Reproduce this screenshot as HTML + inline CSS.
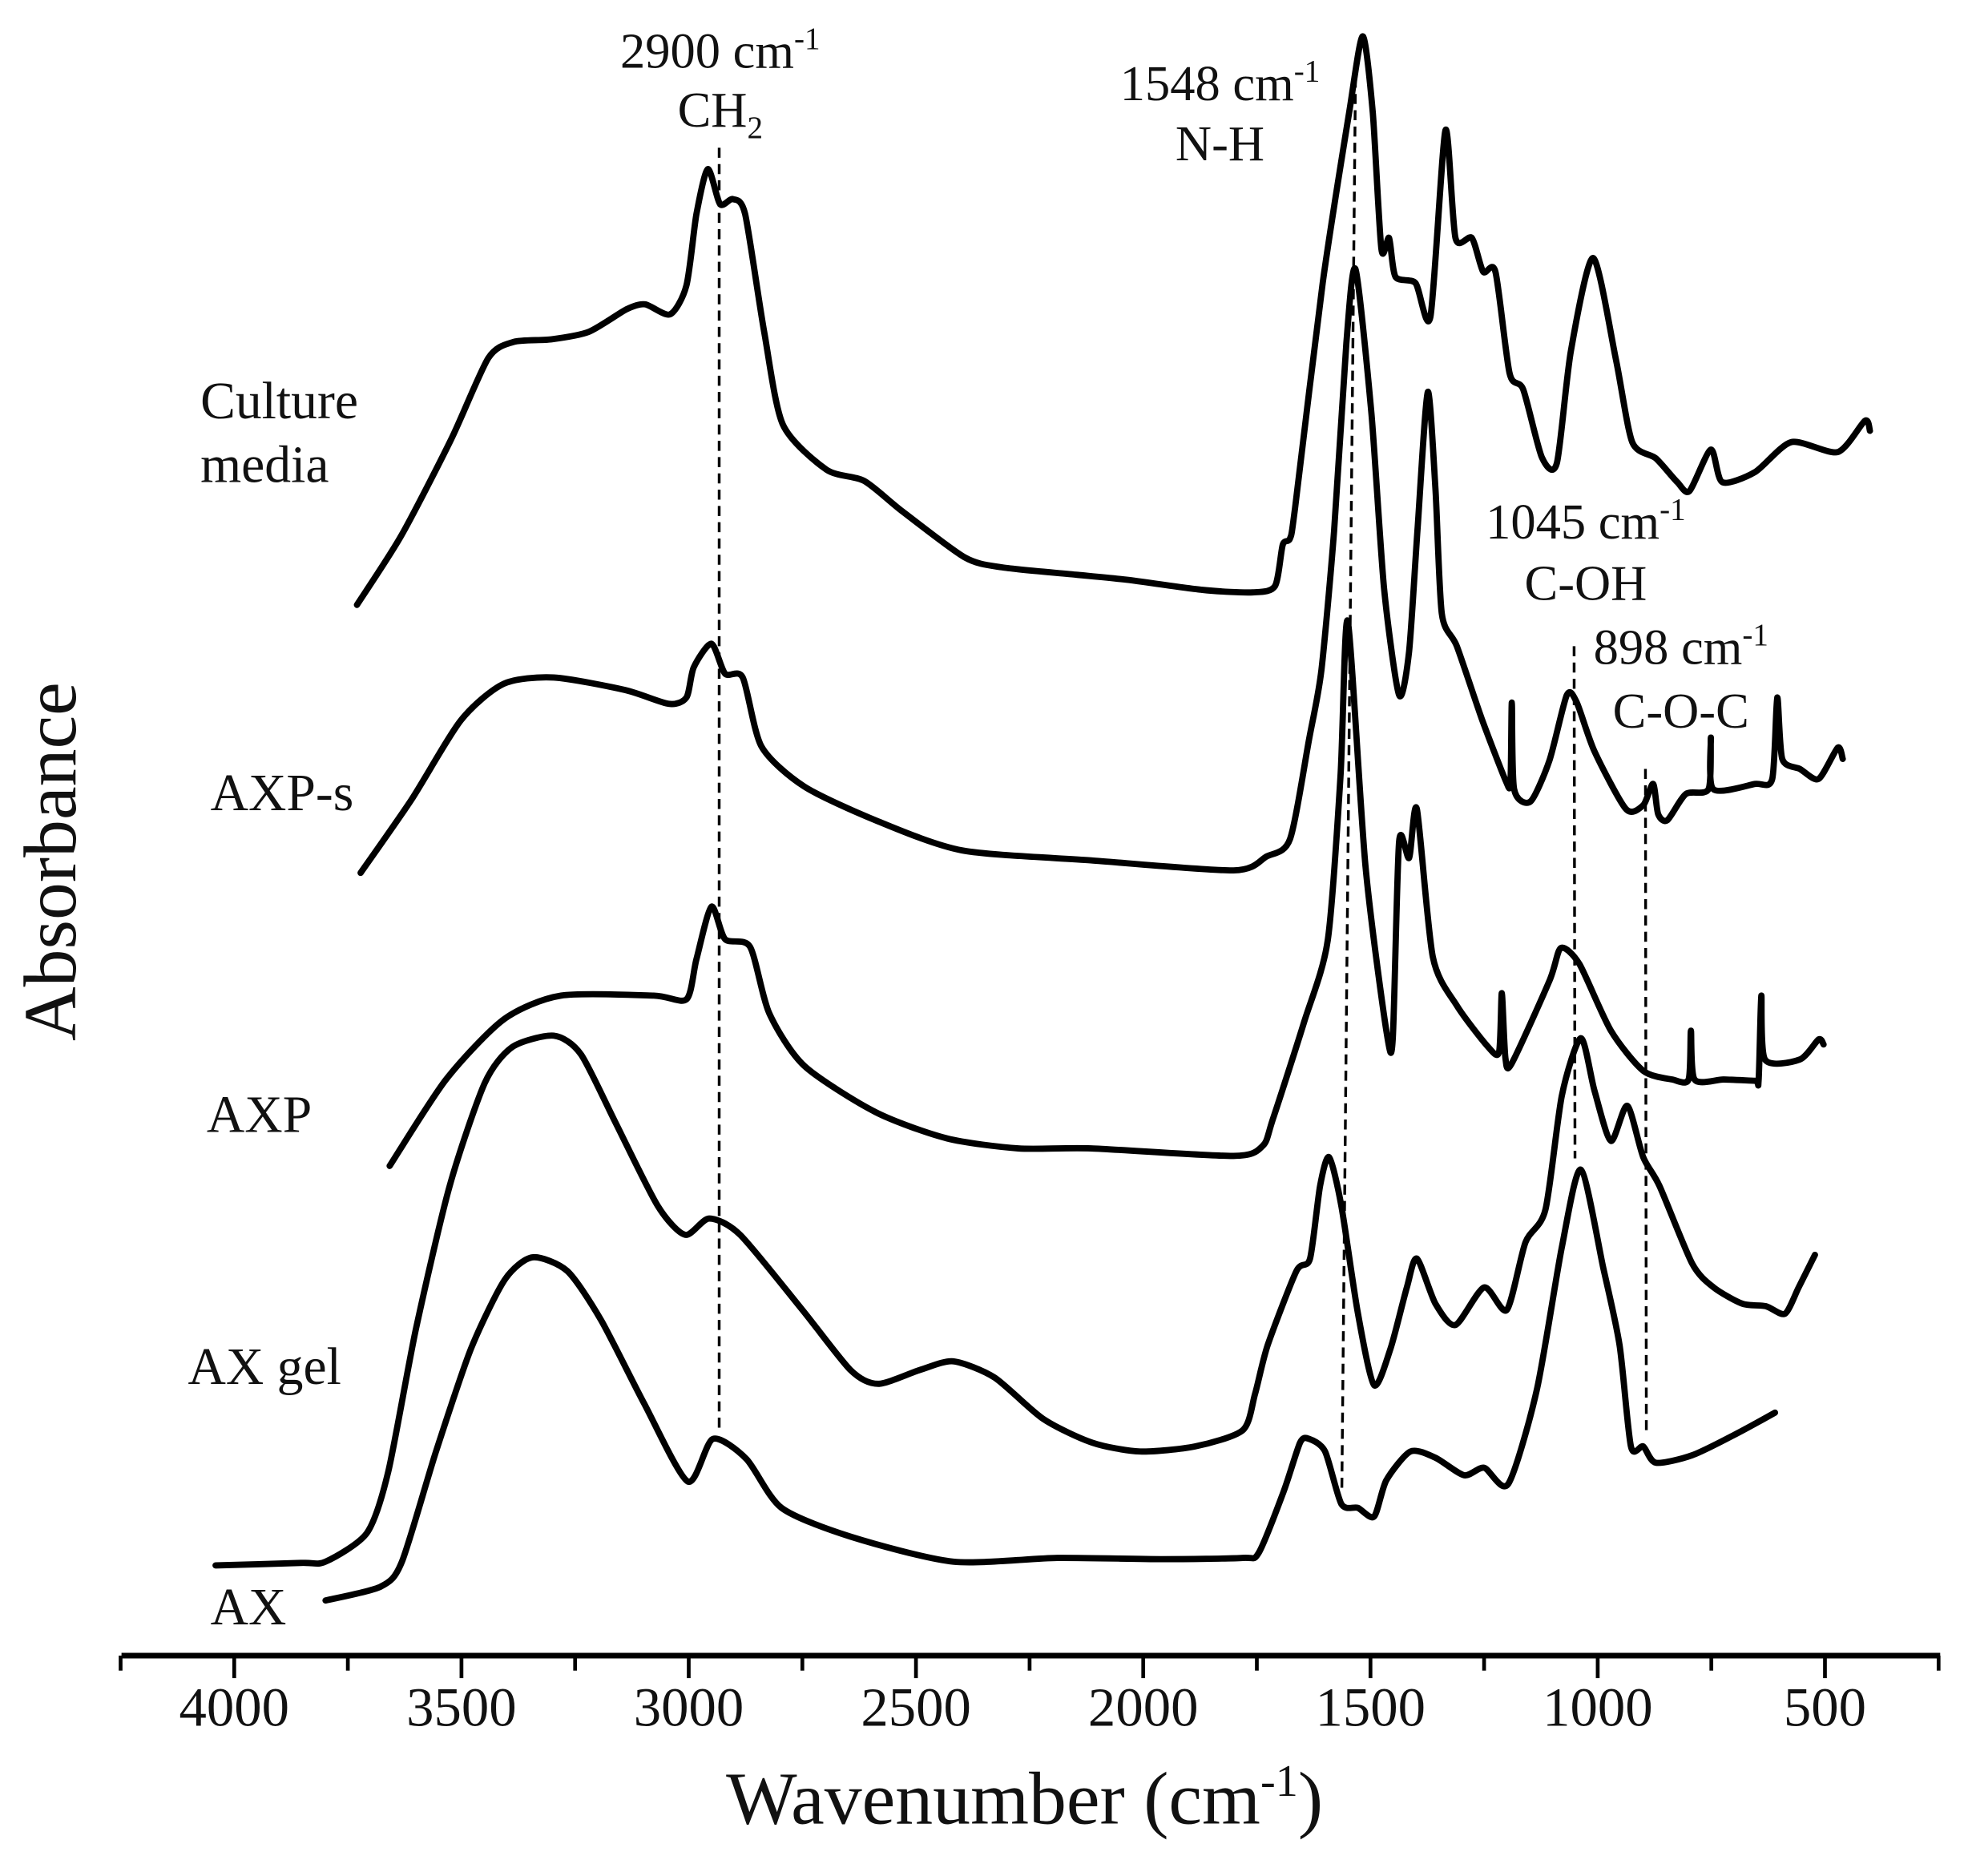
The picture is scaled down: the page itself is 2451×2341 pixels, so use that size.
<!DOCTYPE html>
<html><head><meta charset="utf-8"><style>
html,body{margin:0;padding:0;background:#fff;}
svg{display:block;}
text{font-family:"Liberation Serif",serif;fill:#111;}
</style></head><body>
<svg id="chart" width="2451" height="2341" viewBox="0 0 1568 1498" preserveAspectRatio="none" xmlns="http://www.w3.org/2000/svg">
<rect width="1568" height="1498" fill="#fff"/>
<g id="series"></g>
<g id="annot">
<text x="575" y="54" font-size="40" text-anchor="middle">2900 cm<tspan dy="-15" font-size="25">-1</tspan></text>
<text x="575" y="101" font-size="40" text-anchor="middle">CH<tspan dy="9" font-size="25">2</tspan></text>
<text x="974" y="80" font-size="40" text-anchor="middle">1548 cm<tspan dy="-15" font-size="25">-1</tspan></text>
<text x="974" y="128" font-size="40" text-anchor="middle">N-H</text>
<text x="1266" y="430" font-size="40" text-anchor="middle">1045 cm<tspan dy="-15" font-size="25">-1</tspan></text>
<text x="1266" y="479" font-size="40" text-anchor="middle">C-OH</text>
<text x="1342" y="530" font-size="40" text-anchor="middle">898 cm<tspan dy="-15" font-size="25">-1</tspan></text>
<text x="1342" y="581" font-size="40" text-anchor="middle">C-O-C</text>
<text x="160" y="334" font-size="42">Culture</text>
<text x="160" y="385" font-size="42">media</text>
<text x="168" y="647" font-size="42">AXP-s</text>
<text x="165" y="904" font-size="42">AXP</text>
<text x="150" y="1105" font-size="42">AX gel</text>
<text x="168" y="1297" font-size="42">AX</text>
<text transform="translate(60,688) rotate(-90)" font-size="60" text-anchor="middle">Absorbance</text>
<text x="818" y="1456" font-size="60" text-anchor="middle">Wavenumber (cm<tspan dy="-22" font-size="36">-1</tspan><tspan dy="22">)</tspan></text>
</g>
<g id="axis"></g>
</svg>
<script>
const ticks = [4000,3500,3000,2500,2000,1500,1000,500];
const minorTicks = [4250,3750,3250,2750,2250,1750,1250,750,250];
const cmW = [3730,3633,3523,3441,3385,3303,3220,3137,3096,3041,3005,2983,2958,2931,2903,2876,2834,2793,2697,2614,2531,2393,2311,2145,2035,1870,1759,1710,1693,1677,1666,1605,1547,1517,1495,1476,1459,1445,1401,1368,1335,1313,1277,1252,1225,1194,1164,1123,1090,1059,1010,960,924,872,825,798,751,726,654,574,472,412,401];
const cmA = [8.47,9.02,9.79,10.44,10.57,10.59,10.65,10.83,10.87,10.79,11.02,11.59,11.95,11.67,11.71,11.59,10.65,9.91,9.55,9.46,9.22,8.85,8.77,8.71,8.67,8.59,8.57,8.62,8.95,9.00,9.24,11.04,12.40,13.01,12.40,11.31,11.40,11.09,11.04,10.77,12.26,11.40,11.40,11.13,11.13,10.32,10.19,9.65,9.60,10.50,11.24,10.43,9.77,9.64,9.45,9.38,9.71,9.45,9.53,9.77,9.69,9.94,9.86];
const axpsW = [3722,3611,3501,3407,3297,3140,3044,3005,2989,2950,2920,2881,2840,2746,2589,2399,2115,1801,1729,1677,1635,1608,1580,1553,1533,1498,1470,1437,1415,1396,1374,1357,1343,1310,1255,1203,1192,1189,1184,1148,1106,1068,1046,1007,938,900,878,867,847,806,756,751,746,654,616,605,594,555,514,472,461];
const axpsA = [6.33,6.91,7.55,7.84,7.89,7.79,7.68,7.73,7.97,8.16,7.92,7.89,7.34,7.02,6.75,6.51,6.43,6.35,6.46,6.60,7.40,7.95,9.06,10.56,11.15,10.00,8.60,7.75,8.10,9.10,10.17,9.40,8.40,8.14,7.56,7.07,7.05,7.69,7.00,6.90,7.23,7.75,7.69,7.30,6.84,6.87,7.04,6.80,6.75,6.96,7.00,7.41,7.00,7.04,7.08,7.73,7.24,7.16,7.08,7.33,7.24];
const axpW = [3658,3534,3407,3281,3077,3005,2983,2950,2920,2865,2823,2746,2589,2432,2275,2115,1801,1737,1715,1646,1594,1566,1550,1511,1465,1451,1437,1415,1398,1363,1310,1241,1217,1211,1203,1189,1106,1081,1040,971,900,836,800,795,787,723,654,646,640,632,555,514,503];
const axpA = [3.99,4.68,5.16,5.35,5.35,5.32,5.64,6.06,5.80,5.74,5.21,4.79,4.42,4.21,4.13,4.13,4.07,4.15,4.36,5.14,5.79,7.10,8.34,6.38,5.07,5.00,6.58,6.45,6.84,5.66,5.27,4.94,4.90,5.37,4.85,4.81,5.47,5.73,5.60,5.07,4.75,4.68,4.68,5.07,4.68,4.68,4.67,4.67,5.35,4.84,4.84,5.00,4.96];
const gelW = [4041,3854,3799,3708,3661,3600,3526,3449,3388,3297,3237,3159,3068,3008,2955,2887,2752,2644,2583,2492,2418,2327,2220,2112,2007,1886,1781,1754,1726,1663,1633,1611,1591,1564,1528,1492,1456,1420,1398,1357,1313,1250,1200,1159,1115,1079,1037,1007,971,935,900,864,792,745,682,630,588,558,522];
const gelA = [0.80,0.82,0.83,1.06,1.55,2.69,3.83,4.65,4.94,5.03,4.88,4.32,3.67,3.44,3.57,3.44,2.85,2.36,2.25,2.36,2.43,2.30,1.97,1.78,1.71,1.75,1.88,2.17,2.56,3.15,3.25,3.83,4.06,3.67,2.82,2.24,2.53,3.02,3.25,2.89,2.72,3.02,2.84,3.38,3.64,4.55,5.01,4.59,4.19,4.47,4.06,3.83,3.21,3.02,2.89,2.87,2.81,3.02,3.28];
const axW = [3799,3678,3631,3556,3479,3405,3344,3267,3193,3099,3002,2947,2873,2796,2644,2418,2189,1961,1781,1746,1691,1655,1635,1600,1564,1528,1492,1465,1412,1357,1294,1250,1197,1134,1079,1037,988,952,927,900,872,792,701,610];
const axA = [0.52,0.63,0.83,1.71,2.53,3.08,3.26,3.15,2.76,2.10,1.47,1.81,1.65,1.26,1.03,0.83,0.86,0.85,0.86,0.90,1.39,1.78,1.81,1.71,1.29,1.26,1.19,1.48,1.71,1.66,1.52,1.58,1.45,2.20,3.34,3.96,3.18,2.56,1.75,1.75,1.62,1.68,1.84,2.02];

const NS = "http://www.w3.org/2000/svg";
function xPos(w){ return 187 + (4000 - w) * 0.362857; }
function yPos(a){ return 1330 - a * 100; }

const seriesG = document.getElementById('series');
function drawSeries(ws, as, name){
  const pts = ws.map(function(w, i){ return [xPos(w), yPos(as[i])]; });
  let d = 'M' + pts[0][0].toFixed(1) + ',' + pts[0][1].toFixed(1);
  const k = 1/8;
  for (let i = 0; i < pts.length - 1; i++) {
    const p0 = pts[Math.max(0, i-1)], p1 = pts[i], p2 = pts[i+1], p3 = pts[Math.min(pts.length-1, i+2)];
    const c1x = p1[0] + (p2[0]-p0[0])*k, c1y = p1[1] + (p2[1]-p0[1])*k;
    const c2x = p2[0] - (p3[0]-p1[0])*k, c2y = p2[1] - (p3[1]-p1[1])*k;
    d += 'C' + c1x.toFixed(1) + ',' + c1y.toFixed(1) + ' ' + c2x.toFixed(1) + ',' + c2y.toFixed(1) + ' ' + p2[0].toFixed(1) + ',' + p2[1].toFixed(1);
  }
  const p = document.createElementNS(NS, 'path');
  p.setAttribute('d', d);
  p.setAttribute('fill', 'none');
  p.setAttribute('stroke', '#000');
  p.setAttribute('stroke-width', '5');
  p.setAttribute('stroke-linejoin', 'round');
  p.setAttribute('stroke-linecap', 'round');
  
  
  seriesG.appendChild(p);
}
drawSeries(cmW, cmA, 'culture-media-spectrum');
drawSeries(axpsW, axpsA, 'axp-s-spectrum');
drawSeries(axpW, axpA, 'axp-spectrum');
drawSeries(gelW, gelA, 'ax-gel-spectrum');
drawSeries(axW, axA, 'ax-spectrum');

const annot = document.getElementById('annot');
function dash(x1,y1,x2,y2,name){
  const l = document.createElementNS(NS,'line');
  l.setAttribute('x1',x1); l.setAttribute('y1',y1); l.setAttribute('x2',x2); l.setAttribute('y2',y2);
  l.setAttribute('stroke','#000'); l.setAttribute('stroke-width','2.2'); l.setAttribute('stroke-dasharray','8 5');
  
  
  annot.appendChild(l);
}
dash(xPos(2933),118,xPos(2933),1143,'marker-line-2900');
dash(xPos(1533),62,xPos(1563),1190,'marker-line-1548');
dash(xPos(1052),516,xPos(1050),925,'marker-line-1045');
dash(xPos(895),614,xPos(893),1146,'marker-line-898');

const axisG = document.getElementById('axis');
const base = document.createElementNS(NS,'line');
base.setAttribute('x1',97); base.setAttribute('x2',1549); base.setAttribute('y1',1322); base.setAttribute('y2',1322);
base.setAttribute('stroke','#000'); base.setAttribute('stroke-width','4.5');


axisG.appendChild(base);
ticks.forEach(function(t){
  const l = document.createElementNS(NS,'line');
  l.setAttribute('x1',xPos(t)); l.setAttribute('x2',xPos(t)); l.setAttribute('y1',1322); l.setAttribute('y2',1340);
  l.setAttribute('stroke','#000'); l.setAttribute('stroke-width','3');
  
  
  axisG.appendChild(l);
  const tx = document.createElementNS(NS,'text');
  tx.setAttribute('x',xPos(t)); tx.setAttribute('y',1378); tx.setAttribute('font-size','44'); tx.setAttribute('text-anchor','middle');
  tx.textContent = String(t);
  
  
  axisG.appendChild(tx);
});
minorTicks.forEach(function(t){
  const l = document.createElementNS(NS,'line');
  l.setAttribute('x1',xPos(t)); l.setAttribute('x2',xPos(t)); l.setAttribute('y1',1322); l.setAttribute('y2',1334);
  l.setAttribute('stroke','#000'); l.setAttribute('stroke-width','3');
  
  
  axisG.appendChild(l);
});
</script>
</body></html>
